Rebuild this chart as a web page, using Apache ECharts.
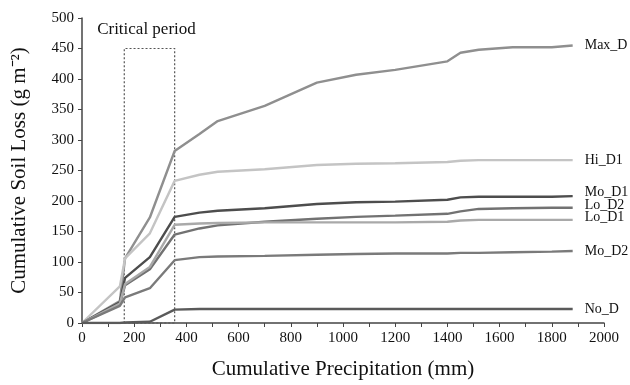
<!DOCTYPE html>
<html><head><meta charset="utf-8">
<script src="https://cdn.jsdelivr.net/npm/echarts@6/dist/echarts.min.js"></script>
<style>html,body{margin:0;padding:0;background:#fff}#c{width:630px;height:385px}</style>
</head><body><div id="c"></div>
<script>
const precipitation = [0,145,165,260,355,450,520,700,900,1050,1200,1400,1450,1520,1650,1800,1880];
const maxD = [0,36,106,173,282,310,331,356,394,407,415,429,443,448,452,452,455];
const hiD1 = [0,60,106,147,233,243,248,252,259,261,262,264,266,267,267,267,267];
const moD1 = [0,34,74,108,174,181,184,188,195,198,199,202,206,207,207,207,208];
const loD2 = [0,30,62,88,145,155,160,166,171,174,176,179,183,187,188,189,189];
const loD1 = [0,32,64,92,161,163,164,165,165,165,165,166,168,169,169,169,169];
const moD2 = [0,28,42,57,103,108,109,110,112,113,114,114,115,115,116,117,118];
const noD  = [0,0,1,2,22,23,23,23,23,23,23,23,23,23,23,23,23];
const seriesNames = ['Max_D','Hi_D1','Mo_D1','Lo_D2','Lo_D1','Mo_D2','No_D'];
const seriesValues = [maxD,hiD1,moD1,loD2,loD1,moD2,noD];
const seriesColors = ['#8f8f8f','#c4c4c4','#4d4d4d','#727272','#a9a9a9','#7a7a7a','#5a5a5a'];
const labelOffsets = [[0,0],[0,0],[0,-4],[0,-2],[0,-3],[0,0],[0,0]];
const criticalPeriod = [162,355,450];
const font = 'Liberation Serif';

const series = seriesNames.map((n,i)=>({
  name:n, type:'line', symbol:'none',
  data: precipitation.map((x,j)=>[x, seriesValues[i][j]]),
  lineStyle:{color:seriesColors[i], width:2.4},
  itemStyle:{color:seriesColors[i]},
  endLabel:{show:true, formatter:'{a}', fontFamily:font, fontSize:14, color:'#111', distance:12, offset:labelOffsets[i]},
  z: 3
}));
series[0].markArea = {
  silent:true,
  itemStyle:{color:'rgba(0,0,0,0)', borderColor:'#555', borderWidth:1.2, borderType:[2,2]},
  label:{show:true, position:'top', distance:10, formatter:'Critical period', fontFamily:font, fontSize:17, color:'#111', offset:[-3,0]},
  data:[[{coord:[criticalPeriod[0],0]},{coord:[criticalPeriod[1],criticalPeriod[2]]}]]
};

const chart = echarts.init(document.getElementById('c'), null, {renderer:'canvas'});
chart.setOption({
  animation:false,
  backgroundColor:'#fff',
  grid:{left:82,right:26,top:18,bottom:60},
  xAxis:{type:'value',min:0,max:2000,interval:200,
    name:'Cumulative Precipitation (mm)',nameLocation:'middle',nameGap:36,
    nameTextStyle:{fontFamily:font,fontSize:21,color:'#111'},
    axisLine:{lineStyle:{color:'#444',width:1.5}},
    axisTick:{show:true,length:4,lineStyle:{color:'#444'}},
    minorTick:{show:true,splitNumber:2,length:4,lineStyle:{color:'#444'}},
    axisLabel:{fontFamily:font,fontSize:15,color:'#111',margin:8,formatter:v=>String(v)},
    splitLine:{show:false}},
  yAxis:{type:'value',min:0,max:500,interval:50,
    name:'Cumulative Soil Loss (g m\u207B\u00B2)',nameLocation:'middle',nameGap:52,
    nameTextStyle:{fontFamily:font,fontSize:21,color:'#111'},
    axisLine:{show:true,lineStyle:{color:'#444',width:1.5}},
    axisTick:{show:true,length:4,lineStyle:{color:'#444'}},
    axisLabel:{fontFamily:font,fontSize:15,color:'#111',margin:8},
    splitLine:{show:false}},
  series:series
});
</script></body></html>
